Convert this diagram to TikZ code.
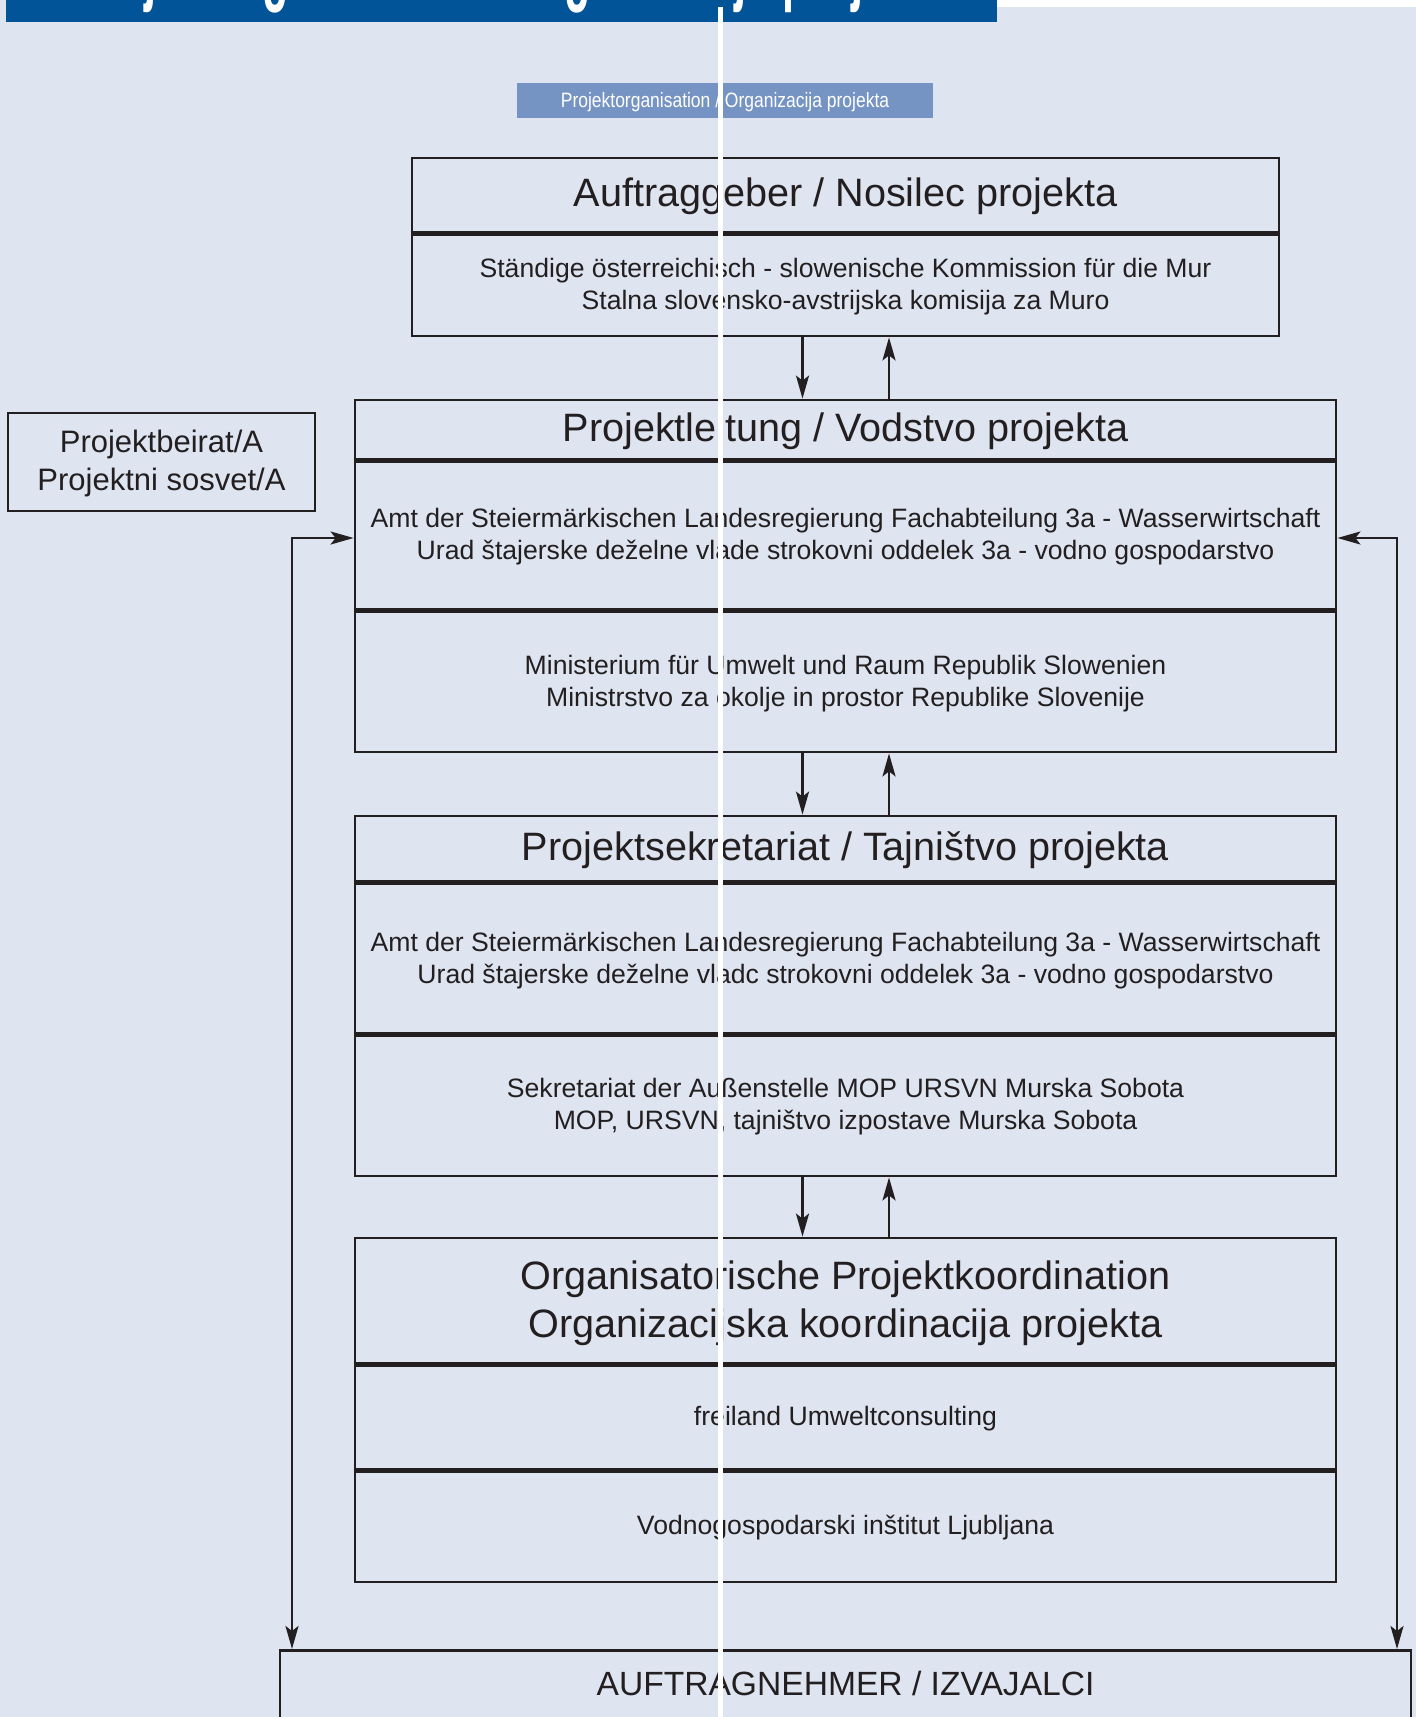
\documentclass[tikz,border=0pt]{standalone}
\usepackage{fontspec}
\usepackage{graphicx}
\setmainfont{Liberation Sans}
\usetikzlibrary{arrows.meta}
\definecolor{bg}{RGB}{222,228,240}
\definecolor{titlebar}{RGB}{0,84,151}
\definecolor{subbox}{RGB}{117,148,196}
\definecolor{ink}{RGB}{35,31,32}
\begin{document}
\begin{tikzpicture}[x=0.5pt,y=-0.5pt,
  sec/.style={draw=ink, line width=1.4pt, inner sep=0pt},
  txt/.style={inner sep=0pt, align=center, text=ink},
  hdr/.style={txt, font=\fontsize{19.8pt}{24pt}\selectfont},
  bodytxt/.style={txt, font=\fontsize{13.3pt}{16pt}\selectfont},
  divline/.style={draw=ink, line width=2.2pt},
  arr/.style={draw=ink, line width=1.2pt, -{Stealth[length=11.5pt,width=6.5pt,inset=2.5pt]}},
  dblarr/.style={draw=ink, line width=1.2pt, {Stealth[length=11.5pt,width=6.5pt,inset=2.5pt]}-{Stealth[length=11.5pt,width=6.5pt,inset=2.5pt]}},
]
\useasboundingbox (0,0) rectangle (1416,1717);
\clip (0,0) rectangle (1416,1717);
\fill[bg] (0,0) rectangle (1416,1717);
\fill[white] (997,0) rectangle (1416,7);
% title bar
\begin{scope}
  \clip (6,0) rectangle (997,22);
  \fill[titlebar] (6,0) rectangle (997,22);
  \node[anchor=base west, inner sep=0pt, outer sep=0pt, text=white, font=\bfseries\fontsize{44pt}{44pt}\selectfont] (title) at (73,-5)
    {\scalebox{0.49}[1]{Projektorganisation / Organizacija projekta}};
\end{scope}
% subtitle
\node[fill=subbox, minimum width=208pt, minimum height=17.5pt, inner sep=0pt] (sub) at (725,100.5) {};
\node[inner sep=0pt, text=white] (subtxt) at ([yshift=-1pt]sub.center)
  {\scalebox{0.84}[1]{\fontsize{10.4pt}{10.4pt}\selectfont Projektorganisation / Organizacija projekta}};
% Auftraggeber
\node[sec, minimum width=433.5pt, minimum height=37pt] (ag) at (845.5,195) {};
\node[sec, minimum width=433.5pt, minimum height=52pt] (agb) at (845.5,284) {};
\draw[divline] (ag.south west) -- (ag.south east);
\node[hdr] at ([yshift=-0.6pt]ag.center) {Auftraggeber / Nosilec projekta};
\node[bodytxt] at ([yshift=-1.5pt]agb.center)
  {Ständige österreichisch - slowenische Kommission für die Mur\\Stalna slovensko-avstrijska komisija za Muro};
% Projektleitung
\node[sec, minimum width=490.5pt, minimum height=29.5pt] (pl) at (845.5,429.5) {};
\node[sec, minimum width=490.5pt, minimum height=75pt] (pl2) at (845.5,534) {};
\node[sec, minimum width=490.5pt, minimum height=71.5pt] (pl3) at (845.5,680.5) {};
\draw[divline] (pl.south west) -- (pl.south east);
\draw[divline] (pl2.south west) -- (pl2.south east);
\node[hdr] at ([yshift=-0.7pt]pl.center) {Projektleitung / Vodstvo projekta};
\node[bodytxt] at ([yshift=-1.2pt]pl2.center)
  {Amt der Steiermärkischen Landesregierung Fachabteilung 3a - Wasserwirtschaft\\Urad štajerske deželne vlade strokovni oddelek 3a - vodno gospodarstvo};
\node[bodytxt] at ([yshift=-1.5pt]pl3.center)
  {Ministerium für Umwelt und Raum Republik Slowenien\\Ministrstvo za okolje in prostor Republike Slovenije};
% Projektsekretariat
\node[sec, minimum width=490.5pt, minimum height=32.5pt] (ps) at (845.5,848.5) {};
\node[sec, minimum width=490.5pt, minimum height=76pt] (ps2) at (845.5,957) {};
\node[sec, minimum width=490.5pt, minimum height=71.5pt] (ps3) at (845.5,1104.5) {};
\draw[divline] (ps.south west) -- (ps.south east);
\draw[divline] (ps2.south west) -- (ps2.south east);
\node[hdr] at ([yshift=-1pt]ps.center) {Projektsekretariat / Tajništvo projekta};
\node[bodytxt] at ([yshift=-1.8pt]ps2.center)
  {Amt der Steiermärkischen Landesregierung Fachabteilung 3a - Wasserwirtschaft\\Urad štajerske deželne vladc strokovni oddelek 3a - vodno gospodarstvo};
\node[bodytxt] at ([yshift=-1.2pt]ps3.center)
  {Sekretariat der Außenstelle MOP URSVN Murska Sobota\\MOP, URSVN, tajništvo izpostave Murska Sobota};
% Organisatorische Projektkoordination
\node[sec, minimum width=490.5pt, minimum height=62.5pt] (po) at (845.5,1300.5) {};
\node[sec, minimum width=490.5pt, minimum height=53pt] (po2) at (845.5,1416) {};
\node[sec, minimum width=490.5pt, minimum height=56.5pt] (po3) at (845.5,1525.5) {};
\draw[divline] (po.south west) -- (po.south east);
\draw[divline] (po2.south west) -- (po2.south east);
\node[hdr] at ([yshift=-1.3pt]po.center) {Organisatorische Projektkoordination\\Organizacijska koordinacija projekta};
\node[bodytxt] at ([yshift=-1.5pt]po2.center) {freiland Umweltconsulting};
\node[bodytxt] at ([yshift=-1.2pt]po3.center) {Vodnogospodarski inštitut Ljubljana};
% Projektbeirat
\node[sec, minimum width=153.5pt, minimum height=49pt] (beirat) at (161.5,462) {};
\node[txt, font=\fontsize{15.5pt}{19.2pt}\selectfont] at ([yshift=-0.8pt]beirat.center)
  {Projektbeirat/A\\Projektni sosvet/A};
% Auftragnehmer
\node[sec, minimum width=565.5pt, minimum height=60pt, anchor=north] (auf) at (845.5,1649) {};
\node[anchor=base, inner sep=0pt, text=ink, font=\fontsize{16.8pt}{16.8pt}\selectfont] (auftxt) at (845.5,1695) {AUFTRAGNEHMER / IZVAJALCI};
% arrows between boxes
\coordinate (xd) at (802.5,0);
\coordinate (xu) at (889,0);
\draw[arr] (agb.south -| xd) -- (pl.north -| xd);
\draw[arr] (pl.north -| xu) -- (agb.south -| xu);
\draw[arr] (pl3.south -| xd) -- (ps.north -| xd);
\draw[arr] (ps.north -| xu) -- (pl3.south -| xu);
\draw[arr] (ps3.south -| xd) -- (po.north -| xd);
\draw[arr] (po.north -| xu) -- (ps3.south -| xu);
% feedback lines
\coordinate (fy) at (0,538);
\coordinate (lx) at (292,0);
\coordinate (rx) at (1397,0);
\draw[dblarr] (fy -| pl2.west) -| (auf.north -| lx);
\draw[dblarr] (fy -| pl2.east) -| (auf.north -| rx);
% white page seam
\fill[white] (717.5,7) rectangle (722.5,1717);
\end{tikzpicture}
\end{document}
